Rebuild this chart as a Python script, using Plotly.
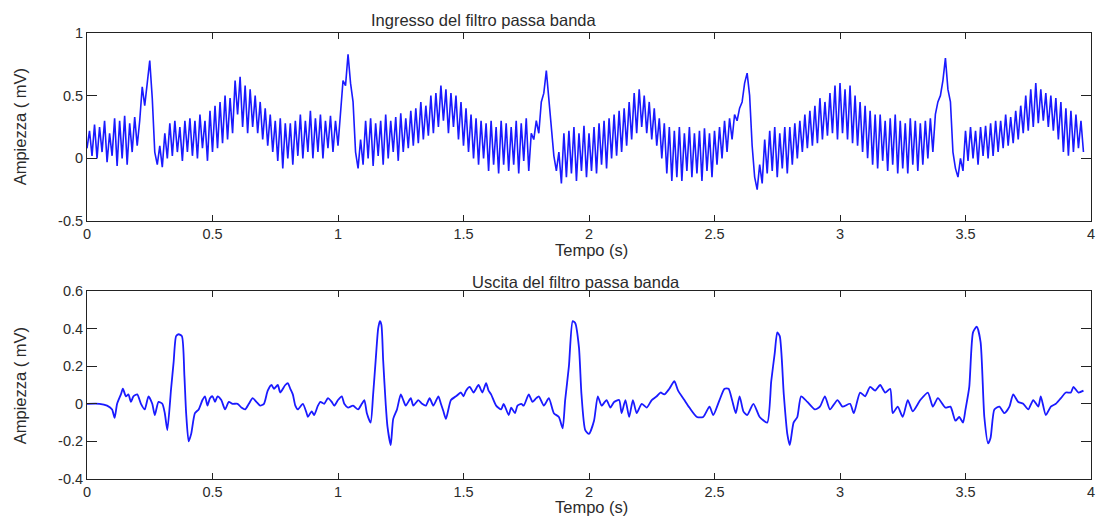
import numpy as np
import plotly.graph_objects as go

# ---------------- data ----------------
# Input of the band-pass filter, sampled every 0.01 s from t = 0
dt_in = 0.01
amp_in = [
    0.08, 0.22, 0.02, 0.27, 0.00, 0.25, 0.05, 0.30, -0.03, 0.20,
    0.02, 0.32, -0.06, 0.30, 0.00, 0.34, -0.05, 0.28, 0.05, 0.33,
    0.10, 0.30, 0.57, 0.42, 0.60, 0.78, 0.48, 0.05, -0.05, 0.10,
    -0.07, 0.20, 0.00, 0.28, 0.02, 0.30, 0.05, 0.25, -0.02, 0.30,
    0.05, 0.32, 0.02, 0.30, 0.00, 0.35, 0.08, 0.30, -0.02, 0.38,
    0.05, 0.42, 0.08, 0.45, 0.12, 0.50, 0.15, 0.48, 0.20, 0.62,
    0.35, 0.65, 0.25, 0.58, 0.20, 0.55, 0.25, 0.50, 0.20, 0.45,
    0.15, 0.40, 0.10, 0.35, 0.05, 0.30, -0.02, 0.32, -0.08, 0.28,
    0.00, 0.28, -0.05, 0.30, 0.02, 0.35, 0.00, 0.30, 0.05, 0.38,
    0.00, 0.32, 0.05, 0.35, 0.00, 0.30, 0.08, 0.34, 0.05, 0.30,
    0.10, 0.35, 0.62, 0.58, 0.83, 0.60, 0.45, 0.05, -0.08, 0.15,
    -0.05, 0.30, 0.00, 0.32, -0.06, 0.28, 0.02, 0.30, -0.05, 0.35,
    0.00, 0.30, 0.05, 0.33, -0.02, 0.36, 0.05, 0.32, 0.08, 0.38,
    0.10, 0.40, 0.12, 0.45, 0.15, 0.42, 0.18, 0.50, 0.20, 0.52,
    0.25, 0.58, 0.30, 0.55, 0.20, 0.52, 0.25, 0.50, 0.15, 0.45,
    0.10, 0.40, 0.05, 0.35, 0.00, 0.32, -0.05, 0.30, 0.00, 0.28,
    -0.10, 0.30, -0.05, 0.25, -0.12, 0.30, -0.05, 0.28, -0.10, 0.25,
    -0.05, 0.30, -0.12, 0.28, -0.02, 0.32, -0.10, 0.20, 0.15, 0.30,
    0.20, 0.45, 0.52, 0.70, 0.48, 0.30, 0.02, -0.10, 0.05, -0.20,
    0.20, -0.15, 0.22, -0.12, 0.25, -0.18, 0.20, -0.10, 0.26, -0.15,
    0.20, -0.10, 0.25, -0.12, 0.28, -0.05, 0.30, -0.08, 0.32, 0.00,
    0.35, 0.02, 0.38, 0.05, 0.40, 0.10, 0.45, 0.15, 0.52, 0.20,
    0.55, 0.25, 0.50, 0.20, 0.45, 0.15, 0.40, 0.10, 0.32, 0.00,
    0.28, -0.12, 0.25, -0.18, 0.22, -0.15, 0.25, -0.18, 0.20, -0.10,
    0.25, -0.15, 0.20, -0.12, 0.22, -0.18, 0.24, -0.10, 0.20, -0.15,
    0.22, -0.05, 0.25, 0.00, 0.30, 0.05, 0.32, 0.15, 0.35, 0.30,
    0.40, 0.45, 0.60, 0.68, 0.50, 0.10, -0.15, -0.25, -0.05, -0.20,
    0.15, -0.12, 0.22, -0.10, 0.25, -0.15, 0.20, -0.08, 0.25, -0.12,
    0.25, -0.05, 0.28, 0.00, 0.30, 0.05, 0.35, 0.08, 0.38, 0.10,
    0.42, 0.12, 0.48, 0.15, 0.45, 0.18, 0.52, 0.20, 0.58, 0.15,
    0.60, 0.20, 0.55, 0.15, 0.58, 0.12, 0.50, 0.10, 0.45, 0.05,
    0.42, 0.00, 0.38, -0.05, 0.35, -0.08, 0.35, -0.02, 0.30, -0.10,
    0.32, -0.05, 0.35, -0.12, 0.30, -0.08, 0.28, -0.12, 0.32, -0.05,
    0.30, -0.10, 0.28, -0.05, 0.30, 0.00, 0.32, 0.05, 0.35, 0.45,
    0.50, 0.62, 0.80, 0.55, 0.45, 0.05, -0.08, -0.15, 0.00, -0.10,
    0.22, -0.02, 0.25, 0.00, 0.22, -0.05, 0.25, 0.02, 0.26, 0.00,
    0.28, 0.02, 0.30, 0.05, 0.30, 0.08, 0.35, 0.10, 0.33, 0.12,
    0.38, 0.15, 0.42, 0.20, 0.50, 0.22, 0.55, 0.25, 0.60, 0.28,
    0.55, 0.30, 0.52, 0.25, 0.50, 0.22, 0.48, 0.15, 0.45, 0.05,
    0.40, 0.02, 0.38, 0.05, 0.35, 0.08, 0.30, 0.05,
]
t_in = [round(i * dt_in, 2) for i in range(len(amp_in))]

# Output of the band-pass filter (time in s, amplitude in mV)
t_out = [
    0.00, 0.05, 0.08, 0.10, 0.11, 0.12, 0.135, 0.143, 0.155, 0.165,
    0.175, 0.185, 0.20, 0.215, 0.23, 0.245, 0.26, 0.27, 0.285, 0.30,
    0.31, 0.32, 0.335, 0.345, 0.355, 0.365, 0.378, 0.388, 0.395, 0.405,
    0.415, 0.43, 0.445, 0.46, 0.47, 0.48, 0.49, 0.50, 0.51, 0.52,
    0.535, 0.55, 0.565, 0.58, 0.60, 0.615, 0.63, 0.645, 0.66, 0.675,
    0.69, 0.705, 0.72, 0.735, 0.745, 0.76, 0.77, 0.79, 0.80, 0.81,
    0.82, 0.83, 0.84, 0.86, 0.875, 0.88, 0.895, 0.905, 0.92, 0.93,
    0.945, 0.96, 0.975, 0.985, 1.00, 1.015, 1.025, 1.04, 1.06, 1.08,
    1.095, 1.105, 1.115, 1.13, 1.14, 1.15, 1.16, 1.167, 1.173, 1.18,
    1.19, 1.197, 1.21, 1.22, 1.235, 1.25, 1.26, 1.27, 1.29, 1.30,
    1.32, 1.335, 1.35, 1.365, 1.38, 1.40, 1.41, 1.42, 1.43, 1.45,
    1.47, 1.49, 1.50, 1.51, 1.525, 1.54, 1.56, 1.575, 1.59, 1.60,
    1.61, 1.63, 1.65, 1.66, 1.68, 1.69, 1.705, 1.715, 1.73, 1.74,
    1.76, 1.775, 1.79, 1.80, 1.82, 1.84, 1.86, 1.88, 1.895, 1.905,
    1.92, 1.935, 1.945, 1.96, 1.97, 1.985, 2.00, 2.02, 2.035, 2.05,
    2.07, 2.085, 2.10, 2.12, 2.13, 2.145, 2.16, 2.175, 2.19, 2.21,
    2.23, 2.25, 2.27, 2.285, 2.30, 2.32, 2.34, 2.355, 2.38, 2.40,
    2.43, 2.455, 2.48, 2.495, 2.52, 2.54, 2.556, 2.57, 2.585, 2.60,
    2.615, 2.63, 2.655, 2.68, 2.71, 2.726, 2.74, 2.75, 2.76, 2.776,
    2.79, 2.80, 2.815, 2.83, 2.845, 2.87, 2.90, 2.92, 2.94, 2.96,
    2.99, 3.01, 3.04, 3.055, 3.08, 3.10, 3.12, 3.14, 3.16, 3.18,
    3.20, 3.21, 3.23, 3.25, 3.27, 3.29, 3.32, 3.35, 3.37, 3.39,
    3.42, 3.44, 3.46, 3.475, 3.49, 3.50, 3.515, 3.53, 3.545, 3.56,
    3.575, 3.59, 3.60, 3.615, 3.635, 3.655, 3.675, 3.69, 3.71, 3.73,
    3.75, 3.77, 3.79, 3.80, 3.82, 3.84, 3.86, 3.88, 3.90, 3.92,
    3.93, 3.95, 3.97,
]
amp_out = [
    0.00, 0.00, -0.01, -0.03, -0.075, 0.00, 0.05, 0.08, 0.04, 0.05,
    0.01, 0.04, 0.05, 0.00, -0.03, 0.04, 0.00, -0.06, 0.01, 0.00,
    -0.05, -0.14, 0.08, 0.22, 0.36, 0.37, 0.36, 0.15, -0.05, -0.20,
    -0.16, -0.05, -0.03, 0.02, 0.04, -0.01, 0.03, 0.04, 0.01, 0.04,
    0.02, -0.03, 0.01, 0.00, 0.00, -0.02, -0.03, 0.00, 0.03, 0.01,
    -0.01, 0.00, 0.07, 0.10, 0.08, 0.10, 0.06, 0.10, 0.11, 0.08,
    0.05, -0.01, -0.03, 0.00, -0.05, -0.07, -0.04, -0.06, -0.01, 0.01,
    0.00, 0.03, 0.01, -0.01, 0.02, 0.04, 0.00, -0.02, -0.01, -0.03,
    0.00, 0.02, -0.05, -0.10, 0.05, 0.23, 0.40, 0.44, 0.42, 0.23,
    0.00, -0.12, -0.22, -0.08, -0.03, 0.05, 0.02, -0.01, 0.03, -0.01,
    0.02, 0.00, -0.01, 0.03, -0.01, 0.04, 0.00, -0.04, -0.08, 0.02,
    0.04, 0.06, 0.04, 0.07, 0.09, 0.06, 0.10, 0.06, 0.11, 0.07,
    0.05, -0.01, -0.03, 0.00, -0.06, -0.02, -0.05, -0.01, 0.00, -0.01,
    0.05, 0.01, 0.03, 0.04, -0.01, 0.03, -0.05, -0.07, -0.13, 0.02,
    0.20, 0.44, 0.43, 0.30, 0.05, -0.14, -0.16, -0.09, 0.04, -0.01,
    0.02, -0.02, 0.01, 0.02, -0.05, 0.02, -0.07, 0.02, -0.05, 0.00,
    -0.02, 0.02, 0.04, 0.06, 0.05, 0.08, 0.12, 0.07, 0.02, -0.02,
    -0.07, -0.07, -0.015, -0.06, 0.02, 0.08, 0.08, 0.02, -0.05, 0.04,
    -0.04, -0.06, 0.00, -0.07, -0.10, 0.12, 0.27, 0.38, 0.36, 0.05,
    -0.16, -0.22, -0.10, -0.07, 0.04, 0.01, -0.03, -0.015, 0.04, -0.03,
    0.02, -0.015, 0.00, -0.05, 0.06, 0.04, 0.09, 0.07, 0.10, 0.06,
    0.08, -0.05, -0.015, -0.07, 0.02, -0.04, 0.02, 0.06, -0.015, 0.03,
    -0.02, -0.015, -0.09, -0.07, -0.10, -0.03, 0.09, 0.38, 0.41, 0.33,
    -0.07, -0.21, -0.18, -0.03, -0.015, -0.05, -0.015, 0.05, 0.01, 0.00,
    -0.03, 0.02, -0.015, 0.04, -0.06, -0.015, 0.00, 0.03, 0.06, 0.06,
    0.09, 0.06, 0.07,
]

x_ticks = [0, 0.5, 1, 1.5, 2, 2.5, 3, 3.5, 4]
x_tick_labels = ["0", "0.5", "1", "1.5", "2", "2.5", "3", "3.5", "4"]
y_ticks_in = [-0.5, 0, 0.5, 1]
y_tick_labels_in = ["-0.5", "0", "0.5", "1"]
y_ticks_out = [-0.4, -0.2, 0, 0.2, 0.4, 0.6]
y_tick_labels_out = ["-0.4", "-0.2", "0", "0.2", "0.4", "0.6"]

title_in = "Ingresso del filtro passa banda"
title_out = "Uscita del filtro passa banda"
x_label = "Tempo (s)"
y_label = "Ampiezza ( mV)"

# ---------------- figure ----------------
FONT = "Liberation Sans, Arial, sans-serif"
TXT = "#2b2b2b"
LINE = "#1a1aff"

fig = go.Figure()
fig.add_trace(go.Scatter(x=t_in, y=amp_in, mode="lines",
                         line=dict(color=LINE, width=1.6),
                         xaxis="x", yaxis="y", showlegend=False))
fig.add_trace(go.Scatter(x=t_out, y=amp_out, mode="lines",
                         line=dict(color=LINE, width=1.8, shape="spline", smoothing=0.6),
                         xaxis="x2", yaxis="y2", showlegend=False))

axis_common = dict(showline=True, linecolor="#222", linewidth=1, mirror="ticks",
                   ticks="inside", tickcolor="#222", showgrid=False, zeroline=False,
                   ticklabeloverflow="allow",
                   tickfont=dict(family=FONT, size=14.5, color=TXT))

fig.update_layout(
    width=1102, height=518, autosize=False,
    margin=dict(l=87, r=7, t=33, b=39),
    paper_bgcolor="white", plot_bgcolor="white",
    font=dict(family=FONT, color=TXT),
    xaxis=dict(domain=[0, 1], anchor="y", range=[0, 4], tickvals=x_ticks,
               ticktext=x_tick_labels, ticklen=6, **axis_common),
    yaxis=dict(domain=[0.5785, 1], anchor="x", range=[-0.5, 1], tickvals=y_ticks_in,
               ticktext=y_tick_labels_in, ticklen=10, **axis_common),
    xaxis2=dict(domain=[0, 1], anchor="y2", range=[0, 4], tickvals=x_ticks,
                ticktext=x_tick_labels, ticklen=6, **axis_common),
    yaxis2=dict(domain=[0, 0.4215], anchor="x2", range=[-0.4, 0.6], tickvals=y_ticks_out,
                ticktext=y_tick_labels_out, ticklen=10, **axis_common),
)

ann = dict(xref="paper", yref="paper", showarrow=False,
           font=dict(family=FONT, size=16.5, color=TXT))
fig.add_annotation(text=title_in, x=0.395, y=1.029, xanchor="center", yanchor="middle", **ann)
fig.add_annotation(text=title_out, x=0.487, y=0.4417, xanchor="center", yanchor="middle", **ann)
fig.add_annotation(text=x_label, x=0.502, y=0.514, xanchor="center", yanchor="middle", **ann)
fig.add_annotation(text=x_label, x=0.502, y=-0.063, xanchor="center", yanchor="middle", **ann)
fig.add_annotation(text=y_label, x=-0.0665, y=0.789, textangle=-90,
                   xanchor="center", yanchor="middle", **ann)
fig.add_annotation(text=y_label, x=-0.0665, y=0.2085, textangle=-90,
                   xanchor="center", yanchor="middle", **ann)

post = ("document.body.style.margin='0';document.body.style.overflow='hidden';"
        "var gd=document.getElementById('{plot_id}');"
        "Plotly.relayout(gd,{width:1102,height:518});")
fig.write_html("out.html", post_script=post, config={"displayModeBar": False})
